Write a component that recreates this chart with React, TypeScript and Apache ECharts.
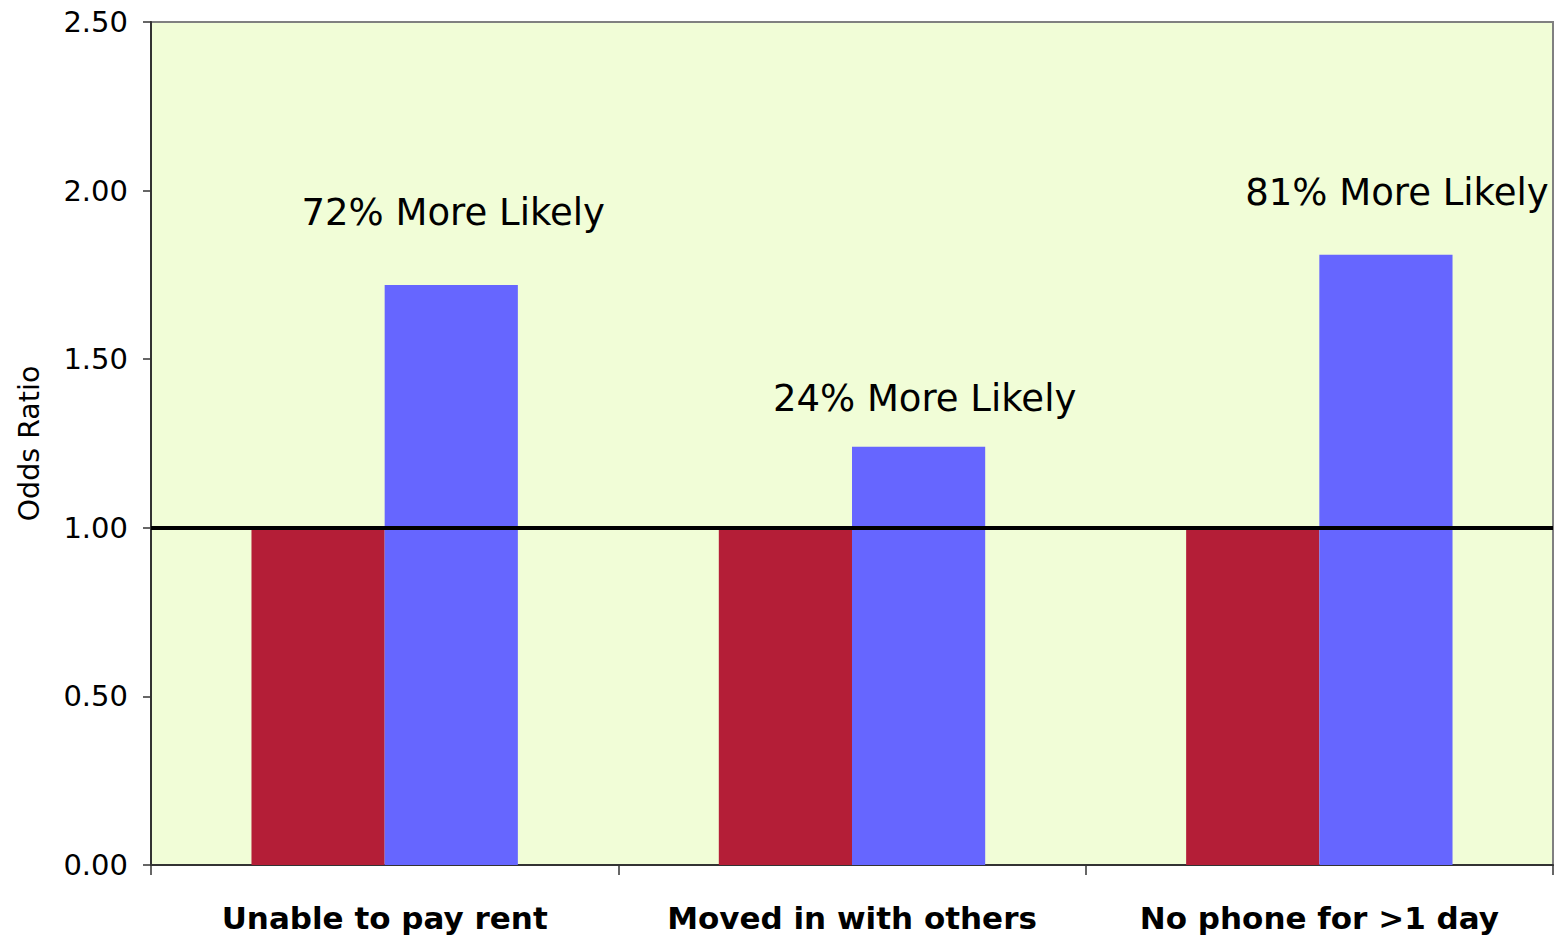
import React, { useEffect, useRef } from "react";
import * as echarts from "echarts";

const categories = ["Unable to pay rent", "Moved in with others", "No phone for >1 day"];
const referenceValues = [1.0, 1.0, 1.0];
const groupValues = [1.72, 1.24, 1.81];
const groupLabels = ["72% More Likely", "24% More Likely", "81% More Likely"];
const yTicks = [0, 0.5, 1.0, 1.5, 2.0, 2.5];
const baseline = 1.0;

const labelOffsets = [
  [2, -49],
  [6, -25],
  [11, -39],
];

export default function App() {
  const ref = useRef<HTMLDivElement>(null);
  useEffect(() => {
    if (!ref.current) return;
    const chart = echarts.init(ref.current, undefined, { renderer: "svg" });
    const font = "DejaVu Sans";
    chart.setOption({
      animation: false,
      backgroundColor: "#ffffff",
      grid: {
        left: 151,
        right: 3,
        top: 22,
        bottom: 76,
        show: true,
        backgroundColor: "#F1FDD7",
        borderColor: "#808080",
        borderWidth: 2,
      },
      xAxis: {
        type: "category",
        data: categories,
        axisLine: { lineStyle: { color: "#333333", width: 2 } },
        axisTick: { show: true, interval: 0, length: 10, lineStyle: { color: "#333333", width: 1.5 } },
        axisLabel: {
          interval: 0,
          hideOverlap: false,
          fontFamily: font,
          fontWeight: "bold",
          fontSize: 31,
          color: "#000000",
          margin: 37,
        },
      },
      yAxis: {
        type: "value",
        min: yTicks[0],
        max: yTicks[yTicks.length - 1],
        interval: 0.5,
        name: "Odds Ratio",
        nameLocation: "middle",
        nameGap: 107,
        nameTextStyle: { fontFamily: font, fontSize: 28.5, color: "#000000" },
        splitLine: { show: false },
        axisLine: { show: true, lineStyle: { color: "#333333", width: 2 } },
        axisTick: { show: true, length: 8, lineStyle: { color: "#333333", width: 1.5 } },
        axisLabel: {
          fontFamily: font,
          fontSize: 29,
          color: "#000000",
          margin: 23,
          formatter: (v: number) => v.toFixed(2),
        },
      },
      series: [
        {
          type: "bar",
          data: referenceValues,
          barGap: "0%",
          barCategoryGap: "43%",
          itemStyle: { color: "#B41E37" },
          markLine: {
            silent: true,
            symbol: "none",
            label: { show: false },
            lineStyle: { color: "#000000", width: 4, type: "solid" },
            data: [{ yAxis: baseline }],
            z: 10,
          },
        },
        {
          type: "bar",
          data: groupValues.map((v, i) => ({
            value: v,
            label: {
              show: true,
              position: "top",
              distance: 5,
              offset: labelOffsets[i],
              formatter: groupLabels[i],
              fontFamily: font,
              fontSize: 37,
              color: "#000000",
            },
          })),
          itemStyle: { color: "#6666FF" },
        },
      ],
    });
    return () => chart.dispose();
  }, []);
  return (
    <div
      ref={ref}
      style={{ position: "fixed", left: 0, top: 0, width: 1556, height: 941 }}
    />
  );
}
